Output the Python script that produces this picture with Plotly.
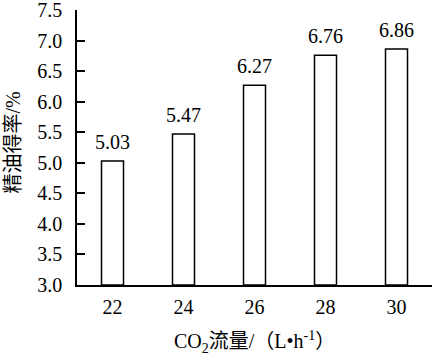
import plotly.graph_objects as go

flow = ["22", "24", "26", "28", "30"]
yield_pct = [5.03, 5.47, 6.27, 6.76, 6.86]
value_labels = ["5.03", "5.47", "6.27", "6.76", "6.86"]
y_ticks = [3.0, 3.5, 4.0, 4.5, 5.0, 5.5, 6.0, 6.5, 7.0, 7.5]

FONT = '"Liberation Serif", "Times New Roman", "Noto Sans CJK SC", serif'
FS = 20

fig = go.Figure()
fig.add_trace(go.Bar(
    x=flow, y=[v - 3.0 for v in yield_pct], base=3.0,
    width=0.31,
    marker=dict(color="white", line=dict(color="black", width=1.5)),
    showlegend=False, hoverinfo="skip",
))

# value labels above bars
for i, (yv, lab) in enumerate(zip(yield_pct, value_labels)):
    fig.add_annotation(x=i, y=yv, xref="x", yref="y", text=lab,
                       showarrow=False, xanchor="center", yanchor="bottom",
                       yshift=6,
                       font=dict(family=FONT, size=FS, color="black"))

fig.add_annotation(text="CO<sub>2</sub>流量/（L•h<sup>-1</sup>）",
                   xref="paper", yref="paper", x=0.5, y=0, yshift=-57,
                   yanchor="middle", xanchor="center", showarrow=False,
                   font=dict(family=FONT, size=FS, color="black"))
fig.add_annotation(text="精油得率/%",
                   xref="paper", yref="paper", x=0, xshift=-65, y=0.5,
                   yshift=5,
                   xanchor="center", yanchor="middle", textangle=-90,
                   showarrow=False,
                   font=dict(family=FONT, size=FS, color="black"))

fig.update_layout(
    width=432, height=360,
    margin=dict(l=77, r=0, t=10, b=75, autoexpand=False),
    plot_bgcolor="white", paper_bgcolor="white",
    font=dict(family=FONT, size=FS, color="black"),
)
fig.update_xaxes(
    type="category", range=[-0.5, 4.5], automargin=False,
    showline=True, linecolor="black", linewidth=1.5,
    ticks="", showgrid=False, zeroline=False,
    tickfont=dict(family=FONT, size=FS),
    ticklabelstandoff=3,
)
fig.update_yaxes(
    range=[3.0, 7.5], tickvals=y_ticks, automargin=False,
    ticktext=[f"{t:.1f}" for t in y_ticks],
    showline=True, linecolor="black", linewidth=1.5,
    ticks="inside", ticklen=8, tickwidth=1.5, tickcolor="black",
    showgrid=False, zeroline=False,
    tickfont=dict(family=FONT, size=FS),
    ticklabelstandoff=9, ticklabeloverflow="allow",
)

fig.write_html("out.html",
               config={"displayModeBar": False},
               post_script="document.body.style.margin='0';")
